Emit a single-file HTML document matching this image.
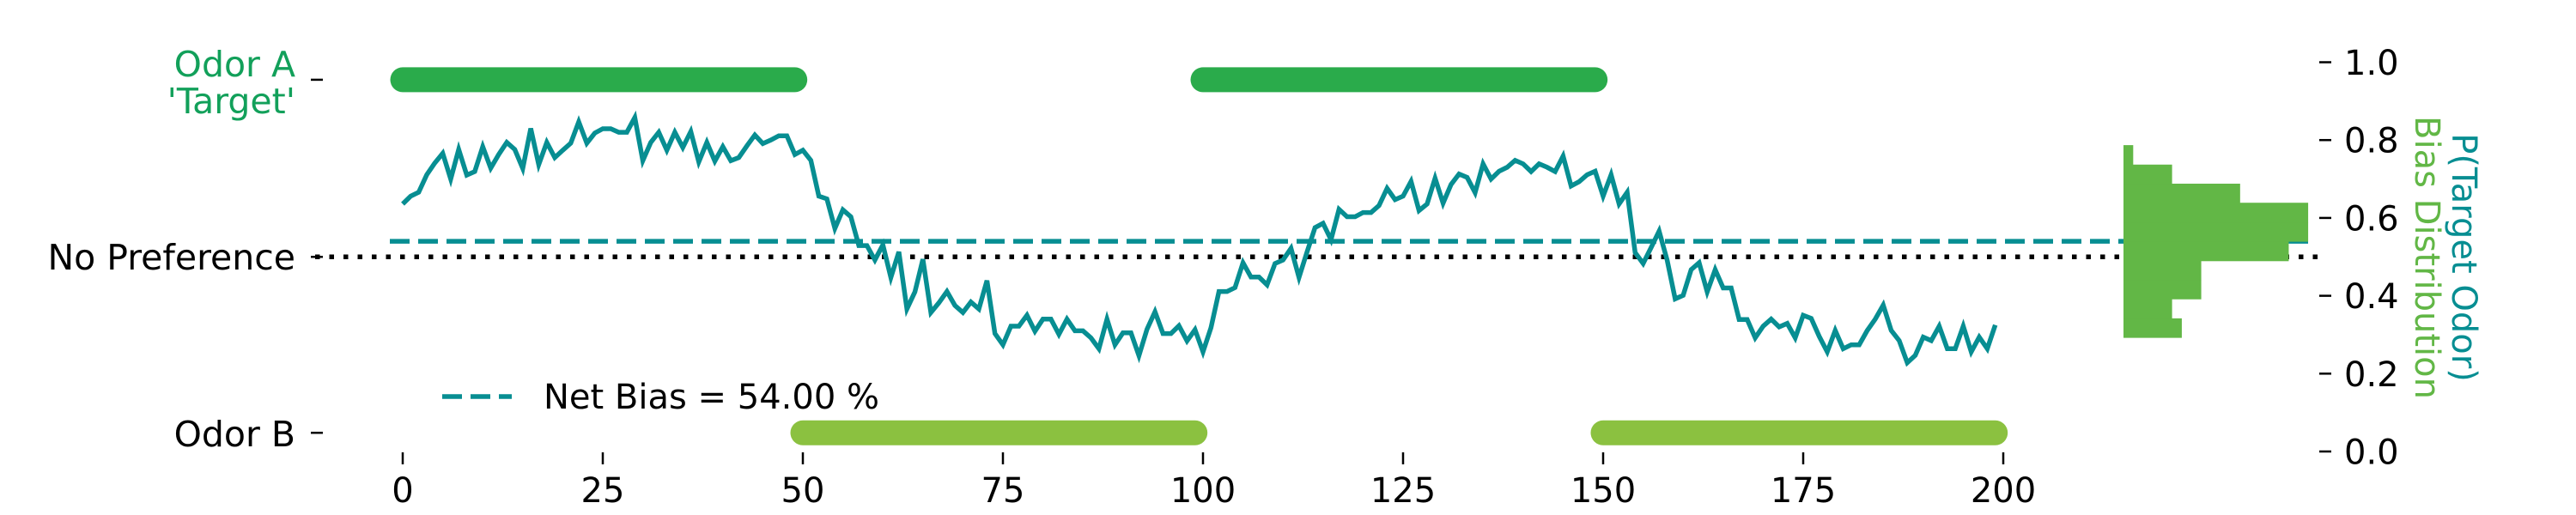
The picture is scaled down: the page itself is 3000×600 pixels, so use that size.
<!DOCTYPE html>
<html>
<head>
<meta charset="utf-8">
<style>
html,body{margin:0;padding:0;background:#fff;}
svg{display:block;}
text{font-family:"DejaVu Sans","Liberation Sans",sans-serif;font-size:40px;}
.lbl{font-size:41px;}
</style>
</head>
<body>
<svg id="chart" width="3000" height="600" viewBox="0 0 3000 600" xmlns="http://www.w3.org/2000/svg">
  <g id="grid"></g>
  <g id="bars"></g>
  <g id="hist"></g>
  <g id="series"></g>
  <g id="axes"></g>
  <g id="legend">
    <line x1="515" y1="462" x2="596" y2="462" stroke="#078e92" stroke-width="5.5" stroke-dasharray="23 10"/>
    <text x="633" y="476" fill="#000">Net Bias = 54.00 %</text>
  </g>
  <text transform="translate(2856,300) rotate(90)" text-anchor="middle" fill="#078e92">P(Target Odor)</text>
  <text transform="translate(2813,300) rotate(90)" text-anchor="middle" fill="#62b746">Bias Distribution</text>
</svg>
<script>
const series = [0.636,0.656,0.666,0.711,0.741,0.766,0.700,0.776,0.710,0.719,0.783,0.728,0.763,0.794,0.776,0.727,0.830,0.737,0.794,0.755,
0.774,0.792,0.847,0.792,0.818,0.829,0.829,0.820,0.820,0.858,0.747,0.794,0.820,0.774,0.820,0.781,0.822,0.744,0.794,0.746,
0.783,0.747,0.755,0.785,0.813,0.791,0.800,0.811,0.811,0.763,0.774,0.748,0.656,0.649,0.573,0.621,0.603,0.529,0.529,0.492,
0.531,0.447,0.513,0.366,0.410,0.494,0.357,0.382,0.411,0.375,0.357,0.384,0.366,0.439,0.303,0.274,0.322,0.322,0.350,0.309,
0.340,0.340,0.301,0.340,0.310,0.310,0.292,0.264,0.340,0.274,0.305,0.305,0.246,0.314,0.359,0.303,0.303,0.323,0.284,0.313,
0.256,0.318,0.411,0.411,0.421,0.485,0.448,0.448,0.428,0.483,0.492,0.522,0.447,0.513,0.575,0.586,0.544,0.622,0.603,0.603,
0.614,0.614,0.632,0.676,0.647,0.656,0.694,0.619,0.636,0.702,0.638,0.686,0.713,0.704,0.665,0.739,0.700,0.720,0.730,0.748,
0.739,0.719,0.739,0.730,0.719,0.759,0.682,0.693,0.711,0.720,0.656,0.711,0.636,0.666,0.511,0.483,0.524,0.566,0.491,0.392,
0.401,0.467,0.485,0.410,0.467,0.420,0.420,0.339,0.339,0.292,0.322,0.340,0.320,0.329,0.292,0.350,0.342,0.296,0.256,0.311,
0.264,0.274,0.274,0.311,0.340,0.376,0.311,0.285,0.228,0.247,0.294,0.285,0.322,0.264,0.264,0.322,0.256,0.294,0.264,0.325];
const netBias = 0.54;
const noPreference = 0.5;
const odorAPeriods = [[0,49],[100,149]];
const odorBPeriods = [[50,99],[150,199]];
const odorALevel = 0.955;
const odorBLevel = 0.048;
const histEdges = [0.293,0.342,0.392,0.441,0.490,0.540,0.589,0.639,0.688,0.737,0.787];
const histCounts = [12,10,16,16,34,38,38,24,10,2];
const xTicks = [0,25,50,75,100,125,150,175,200];
const yTicks = [0.0,0.2,0.4,0.6,0.8,1.0];
const yTickLabels = ["0.0","0.2","0.4","0.6","0.8","1.0"];
const leftTickValues = [0.955,0.5,0.048];

const NS = "http://www.w3.org/2000/svg";
const X0 = 469, X1 = 2333, XMAX = 200;
const Y0 = 526, YSPAN = 453.5;
const HIST_LEFT = 2473, HIST_SCALE = 5.66;
function xs(v){ return X0 + (X1 - X0) * v / XMAX; }
function ys(v){ return Y0 - YSPAN * v; }
function mk(tag, attrs, parent){
  const e = document.createElementNS(NS, tag);
  for (const k in attrs) e.setAttribute(k, attrs[k]);
  parent.appendChild(e);
  return e;
}

const grid = document.getElementById('grid');
const dot = mk('line', {x1:367, x2:2701, y1:ys(noPreference), y2:ys(noPreference), stroke:'#000', 'stroke-width':5.5, 'stroke-dasharray':'5.5 11'}, grid);



const bars = document.getElementById('bars');
odorAPeriods.forEach(function(p, i){
  const l = mk('line', {x1:xs(p[0]), x2:xs(p[1]), y1:ys(odorALevel), y2:ys(odorALevel), stroke:'#2aab4b', 'stroke-width':29, 'stroke-linecap':'round'}, bars);
  
  
});
odorBPeriods.forEach(function(p, i){
  const l = mk('line', {x1:xs(p[0]), x2:xs(p[1]), y1:ys(odorBLevel), y2:ys(odorBLevel), stroke:'#8bc140', 'stroke-width':29, 'stroke-linecap':'round'}, bars);
  
  
});

const hist = document.getElementById('hist');
histCounts.forEach(function(c, i){
  const top = ys(histEdges[i+1]), bot = ys(histEdges[i]);
  const r = mk('rect', {x:HIST_LEFT, y:top, width:c*HIST_SCALE, height:bot-top+0.5, fill:'#62b746'}, hist);
  
  
});

const dash = mk('line', {x1:454, x2:2695, y1:ys(netBias), y2:ys(netBias), stroke:'#078e92', 'stroke-width':5.5, 'stroke-dasharray':'23 10'}, grid);



const seriesG = document.getElementById('series');
const pts = series.map(function(v, i){ return xs(i).toFixed(1) + ',' + ys(v).toFixed(1); }).join(' ');
const pl = mk('polyline', {points:pts, fill:'none', stroke:'#078e92', 'stroke-width':5.5, 'stroke-linejoin':'miter', 'stroke-miterlimit':4}, seriesG);



const axes = document.getElementById('axes');
xTicks.forEach(function(t){
  const tk = mk('line', {x1:xs(t), x2:xs(t), y1:527, y2:541, stroke:'#000', 'stroke-width':2.5}, axes);
  
  
  const tx = mk('text', {x:xs(t), y:585, 'text-anchor':'middle', fill:'#000'}, axes);
  tx.textContent = String(t);
  
  
});
yTicks.forEach(function(t, i){
  const tk = mk('line', {x1:2701, x2:2715, y1:ys(t), y2:ys(t), stroke:'#000', 'stroke-width':2.5}, axes);
  
  
  const tx = mk('text', {x:2730, y:ys(t)+14.5, fill:'#000'}, axes);
  tx.textContent = yTickLabels[i];
  
  
});
leftTickValues.forEach(function(t, i){
  const tk = mk('line', {x1:362, x2:376, y1:ys(t), y2:ys(t), stroke:'#000', 'stroke-width':2.5}, axes);
  
  
});
const la1 = mk('text', {x:344, y:89, 'text-anchor':'end', fill:'#12a05a', 'class':'lbl'}, axes);
la1.textContent = 'Odor A';


const la2 = mk('text', {x:344, y:132, 'text-anchor':'end', fill:'#12a05a', 'class':'lbl'}, axes);
la2.textContent = "'Target'";


const lnp = mk('text', {x:344, y:314, 'text-anchor':'end', fill:'#000', 'class':'lbl'}, axes);
lnp.textContent = 'No Preference';


const lb = mk('text', {x:344, y:520, 'text-anchor':'end', fill:'#000', 'class':'lbl'}, axes);
lb.textContent = 'Odor B';


</script>
</body>
</html>
